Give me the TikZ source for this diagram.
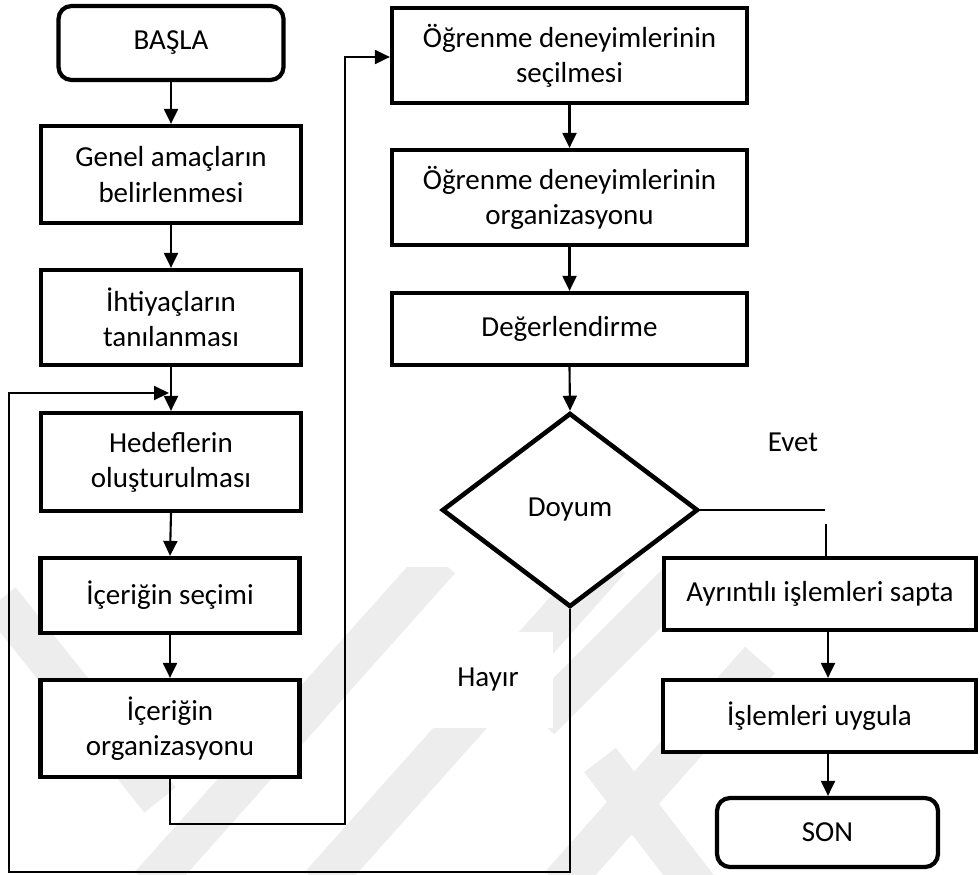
\documentclass[tikz,border=0pt]{standalone}
\usepackage{fontspec}
\setmainfont{Carlito}
\usetikzlibrary{arrows.meta,shapes.geometric,calc}
\begin{document}
\begin{tikzpicture}[x=0.02cm,y=-0.02cm,
  font=\fontsize{16.5}{20}\selectfont,
  box/.style 2 args={draw, fill=white, line width=2.4pt, inner sep=0pt, align=center,
    minimum width=#1*0.02cm, minimum height=#2*0.02cm},
  term/.style 2 args={box={#1}{#2}, rounded corners=0.26cm},
  decision/.style 2 args={draw, fill=white, diamond, line width=2.6pt, inner sep=0pt,
    minimum width=#1*0.02cm, minimum height=#2*0.02cm},
  link/.style={line width=1.1pt},
  arr/.style={line width=1.2pt, -{Triangle[width=0.28cm,length=0.3cm]}},
  band/.style={line width=0.8cm, draw=black!7},
  label/.style={inner sep=0pt}]

% canvas
\fill[white] (0,0) rectangle (980,875);
\useasboundingbox (0,0) rectangle (980,875);

% faint background bands
\begin{scope}
  \clip (0,567) rectangle (980,875);
  \draw[band] (150,885) -- (440,560);
  \draw[band] (320,885) -- (610,560);
  \draw[band] (560,885) -- (760,660);
  \draw[band] (0,600) -- (160,800);
  \draw[band] (600,760) -- (700,890);
  \draw[band] (540,720) -- (700,560);
\end{scope}

% left column
\node[term={225}{74}]  (basla)   at (171,43)    {BAŞLA};
\node[box={260}{97}]   (genel)   at (171,174.5) {Genel amaçların\\belirlenmesi};
\node[box={260}{95}]   (ihtiyac) at (171,317.5) {İhtiyaçların\\tanılanması};
\node[box={260}{98}]   (hedef)   at (171,462)   {Hedeflerin\\oluşturulması};
\node[box={259}{75}]   (secim)   at (170,595.5) {İçeriğin seçimi};
\node[box={259}{97}]   (orgz)    at (170,728.5) {İçeriğin\\organizasyonu};

% middle column
\node[box={355}{95}]   (ogrsec)  at (569.5,55.5) {Öğrenme deneyimlerinin\\seçilmesi};
\node[box={355}{95}]   (ogrorg)  at (569.5,197.5) {Öğrenme deneyimlerinin\\organizasyonu};
\node[box={355}{72}]   (deger)   at (569.5,329) {Değerlendirme};
\node[decision={256}{194}] (doyum) at (570,510) {Doyum};

% right column
\node[box={312}{72}]   (ayrinti) at (820,594) {Ayrıntılı işlemleri sapta};
\node[box={313}{72}]   (uygula)  at (819.5,716) {İşlemleri uygula};
\node[term={221}{69}]  (son)     at (827.5,832.5) {SON};

% branch labels
\node[label] (evet) at (793,442) {Evet};
\fill[white] (425,632) rectangle (553,728);
\node[label] (hayir) at (488,680) {Hayır};

% main flow
\draw[arr] (basla.south) -- (genel.north);
\draw[arr] (genel.south) -- (ihtiyac.north);
\draw[arr] (ihtiyac.south) -- (hedef.north);
\draw[arr] (hedef.south) -- (secim.north);
\draw[arr] (secim.south) -- (orgz.north);
\draw[arr] (ogrsec.south) -- (ogrorg.north);
\draw[arr] (ogrorg.south) -- (deger.north);
\draw[arr] (deger.south) -- (doyum.north);

% content organisation feeds the learning experiences
\coordinate (ob) at (345,824);
\coordinate (ot) at (345,57);
\draw[arr] (orgz.south) |- (ob) -- (ot) -- (ogrsec.west |- ot);

% "Evet" branch
\coordinate (ev1) at (825,510);
\coordinate (ev2) at (826,524);
\draw[link] (doyum.east) -- (ev1);
\draw[link] (ev2) -- (ev2 |- ayrinti.north);

% "Hayır" branch back to the objectives
\coordinate (lb) at (9,872);
\coordinate (lt) at (9,393);
\coordinate (join) at (169,393);
\draw[arr] (doyum.south) |- (lb) -- (lt) -- (join);

% right column flow
\coordinate (rc) at (828,0);
\draw[arr] (ayrinti.south -| rc) -- (uygula.north -| rc);
\draw[arr] (uygula.south -| rc) -- (son.north -| rc);
\end{tikzpicture}
\end{document}
